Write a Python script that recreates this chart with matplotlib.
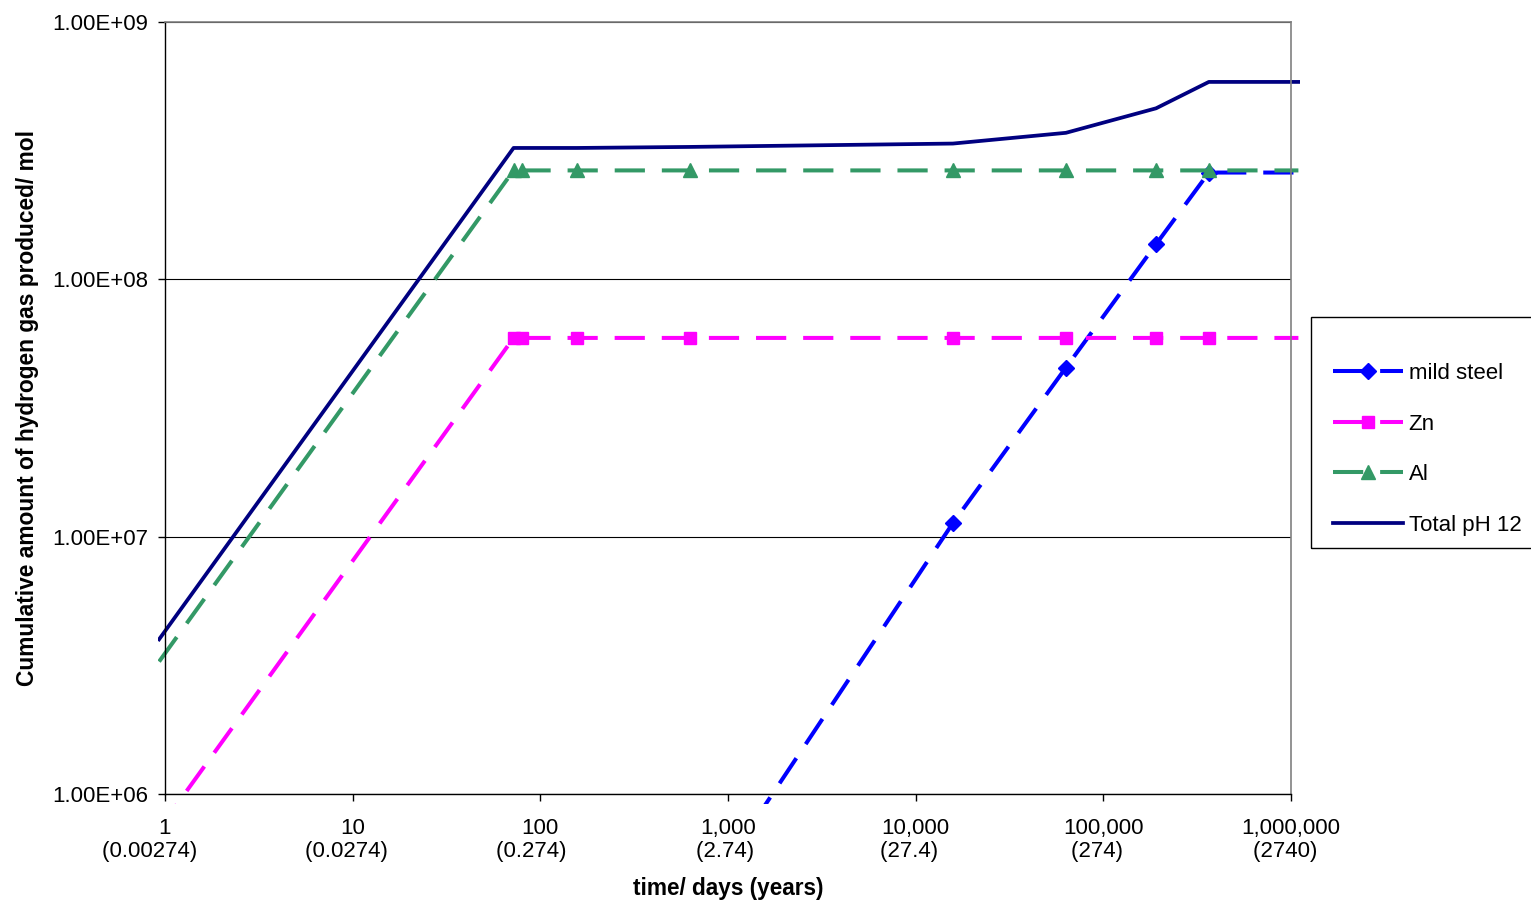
import matplotlib
matplotlib.use("Agg")
import matplotlib.pyplot as plt
from matplotlib.transforms import Bbox, TransformedBbox
from matplotlib.patches import Rectangle

plt.rcParams['font.family'] = ['Liberation Sans', 'DejaVu Sans']
plt.rcParams['font.size'] = 16

# ---- data (time in days) ----
t_days = [0.93, 72, 80, 157, 627, 15800, 63200, 191000, 365000, 1095000]
total_ph12 = [3.99e6, 3.24e8, 3.24e8, 3.24e8, 3.27e8, 3.37e8, 3.71e8, 4.62e8, 5.85e8, 5.85e8]
al = [3.27e6, 2.65e8, 2.65e8, 2.65e8, 2.65e8, 2.65e8, 2.65e8, 2.65e8, 2.65e8, 2.65e8]
zn = [7.3e5, 5.92e7, 5.92e7, 5.92e7, 5.92e7, 5.92e7, 5.92e7, 5.92e7, 5.92e7, 5.92e7]
t_steel = [627, 15800, 63200, 191000, 365000, 1095000]
mild_steel = [3.3e5, 1.13e7, 4.54e7, 1.37e8, 2.60e8, 2.60e8]

x_ticks = [1, 10, 100, 1000, 10000, 100000, 1000000]
x_ticklabels = ["1\n(0.00274)     ", "10\n(0.0274)  ", "100\n(0.274)   ", "1,000\n(2.74) ",
                "10,000\n(27.4)  ", "100,000\n(274)  ", "1,000,000\n(2740)  "]
y_ticks = [1e6, 1e7, 1e8, 1e9]
y_ticklabels = ["1.00E+06", "1.00E+07", "1.00E+08", "1.00E+09"]

W, H = 1531, 900
fig = plt.figure(figsize=(W / 100, H / 100), dpi=100)
ax = fig.add_axes([165 / W, 1 - 794 / H, (1291 - 165) / W, (794 - 22) / H])
ax.set_xscale('log')
ax.set_yscale('log')
ax.set_xlim(1, 1e6)
ax.set_ylim(1e6, 1e9)

lw = 2.9
dash = (7.5, 4.2)
clipbox = TransformedBbox(Bbox([[-0.006, -0.013], [1.008, 1.0]]), ax.transAxes)

l1, = ax.plot(t_steel, mild_steel, color='#0000FF', lw=lw, dashes=dash,
              marker='D', ms=8.5, markevery=slice(1, -1), label='mild steel')
l2, = ax.plot(t_days, zn, color='#FF00FF', lw=lw, dashes=dash,
              marker='s', ms=9, markevery=slice(1, -1), label='Zn')
l3, = ax.plot(t_days, al, color='#339966', lw=lw, dashes=dash,
              marker='^', ms=10.5, markevery=slice(1, -1), label='Al')
l4, = ax.plot(t_days, total_ph12, color='#000080', lw=2.7, label='Total pH 12')
for ln in (l1, l2, l3, l4):
    ln.set_clip_box(clipbox)

ax.set_xticks(x_ticks)
ax.set_xticklabels(x_ticklabels, linespacing=1.15)
ax.set_yticks(y_ticks)
ax.set_yticklabels(y_ticklabels)
ax.minorticks_off()
ax.tick_params(axis='both', direction='out', length=5, width=1, colors='black')
ax.tick_params(axis='x', pad=12)
ax.tick_params(axis='y', pad=7)

ax.yaxis.grid(True, color='black', lw=0.8)
ax.set_axisbelow(True)
for s in ('left', 'bottom'):
    ax.spines[s].set_color('black')
    ax.spines[s].set_linewidth(1.0)
for s in ('top', 'right'):
    ax.spines[s].set_color('#808080')
    ax.spines[s].set_linewidth(1.2)

ax.set_xlabel('time/ days (years)', fontweight='bold', fontsize=16.3)
ax.xaxis.set_label_coords(0.5, -0.108)
ax.set_ylabel('Cumulative amount of hydrogen gas produced/ mol', fontweight='bold',
              fontsize=16.4)
ax.yaxis.set_label_coords(-0.112, 0.5)

# legend frame
fig.patches.append(Rectangle((1311 / W, 1 - 548 / H), (1540 - 1311) / W, (548 - 317) / H,
                             transform=fig.transFigure, fill=False, edgecolor='black',
                             lw=1.0, figure=fig))
ax.legend(handles=[l1, l2, l3, l4], loc='upper left',
          bbox_to_anchor=(1333 / W, 1 - 363 / H), bbox_transform=fig.transFigure,
          frameon=False, borderpad=0, borderaxespad=0, handlelength=3.15,
          handletextpad=0.25, labelspacing=1.33, fontsize=16)

fig.savefig('out.png', dpi=100)
